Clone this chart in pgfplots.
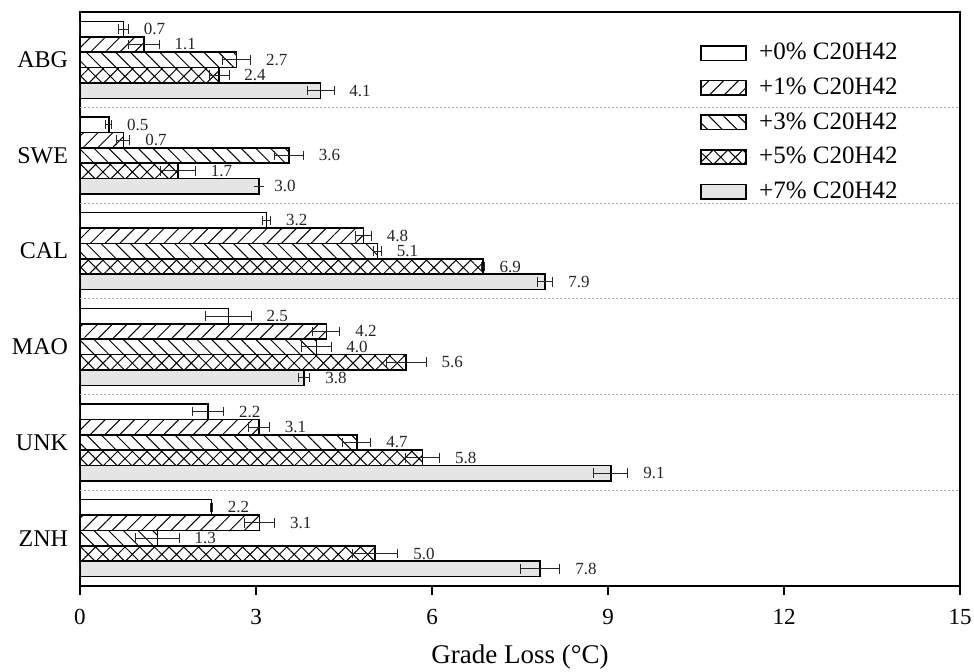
\documentclass[border=0pt]{standalone}
\usepackage{fontspec}
\setmainfont{Liberation Serif}
\usepackage{pgfplots}
\pgfplotsset{compat=1.18}
\usepackage{pgfplotstable}
\usetikzlibrary{patterns.meta}

% y = group position + offset (ZNH=0 ... ABG=5)
\pgfplotstableread{
y x err label
5.322 0.74 0.085 0.7
4.322 0.49 0.05 0.5
3.322 3.18 0.07 3.2
2.322 2.53 0.39 2.5
1.322 2.18 0.27 2.2
0.322 2.24 0.02 2.2
}\tA
\pgfplotstableread{
y x err label
5.161 1.09 0.26 1.1
4.161 0.74 0.11 0.7
3.161 4.83 0.14 4.8
2.161 4.20 0.23 4.2
1.161 3.05 0.18 3.1
0.161 3.06 0.26 3.1
}\tB
\pgfplotstableread{
y x err label
5 2.67 0.24 2.7
4 3.56 0.25 3.6
3 5.07 0.07 5.1
2 4.03 0.25 4.0
1 4.72 0.24 4.7
0 1.32 0.37 1.3
}\tC
\pgfplotstableread{
y x err label
4.839 2.37 0.17 2.4
3.839 1.67 0.30 1.7
2.839 6.87 0.02 6.9
1.839 5.56 0.34 5.6
0.839 5.84 0.29 5.8
-0.161 5.03 0.39 5.0
}\tD
\pgfplotstableread{
y x err label
4.678 4.10 0.23 4.1
3.678 3.05 0.00 3.0
2.678 7.93 0.13 7.9
1.678 3.82 0.10 3.8
0.678 9.05 0.29 9.1
-0.322 7.84 0.34 7.8
}\tE

\pgfplotsset{
  mybar/.style={xbar, bar width=0.161, bar shift=0pt, draw=black, line width=0.8pt,
    legend image code/.code={\draw[##1,line width=0.8pt] (0pt,-3.6pt) rectangle (22.5pt,3.6pt);
      \path[draw=none] (22.5pt,0pt) -- (27pt,0pt);},
    error bars/x dir=both, error bars/x explicit,
    error bars/error mark=|,
    error bars/error bar style={line width=0.5pt, black!85},
    error bars/error mark options={line width=0.5pt, mark size=2.4pt, black!85}},
  mylab/.style={draw=none, mark=none, forget plot, nodes near coords, point meta=explicit symbolic,
    nodes near coords style={anchor=west, inner sep=0pt, xshift=7.5pt, font=\fontsize{8.5}{9}\selectfont, black!85}},
}

\begin{document}
\begin{tikzpicture}
\begin{axis}[
  name=ax,
  scale only axis, width=440pt, height=287pt,
  xmin=0, xmax=15, ymin=-0.5, ymax=5.5,
  xtick={0,3,6,9,12,15},
  ytick={0,1,2,3,4,5}, yticklabels={ZNH,UNK,MAO,CAL,SWE,ABG},
  axis line style={line width=1pt},
  tick align=outside, xtick pos=bottom, ytick pos=left,
  major tick length=4.5pt,
  x tick style={line width=0.8pt, black},
  y tick style={draw=none},
  extra y ticks={0.5,1.5,2.5,3.5,4.5}, extra y tick labels={},
  extra y tick style={grid=major, major grid style={black!35, line width=0.5pt, dash pattern=on 1pt off 1pt}, tick style={draw=none}},
  /pgf/number format/assume math mode=true,
  xticklabel style={font=\fontsize{11.5}{13}\selectfont, yshift=-3.5pt},
  yticklabel style={font=\fontsize{12}{14}\selectfont, xshift=2pt},
  xlabel={Grade Loss (°C)},
  x label style={at={(axis description cs:0.5,0)}, anchor=center, yshift=-35.5pt, font=\fontsize{13.5}{15}\selectfont},
  legend style={at={(rel axis cs:0.7045,0.953)}, anchor=north west, draw=none, fill=none, inner sep=0pt,
    font=\fontsize{12.5}{14}\selectfont, row sep=3.5pt},
  legend cell align=left,
]
\addplot[mybar, fill=white] table[x=x, y=y, x error=err] {\tA};
\addlegendentry{+0\% C20H42}
\addplot[mybar, pattern={Lines[angle=45, distance=5.2pt, line width=0.5pt]}] table[x=x, y=y, x error=err] {\tB};
\addlegendentry{+1\% C20H42}
\addplot[mybar, pattern={Lines[angle=-45, distance=5.2pt, line width=0.5pt]}] table[x=x, y=y, x error=err] {\tC};
\addlegendentry{+3\% C20H42}
\addplot[mybar, pattern={Hatch[angle=45, distance=5.2pt, line width=0.5pt]}] table[x=x, y=y, x error=err] {\tD};
\addlegendentry{+5\% C20H42}
\addplot[mybar, fill=black!10] table[x=x, y=y, x error=err] {\tE};
\addlegendentry{+7\% C20H42}

\addplot[mylab] table[x expr=\thisrow{x}+\thisrow{err}, y=y, meta=label] {\tA};
\addplot[mylab] table[x expr=\thisrow{x}+\thisrow{err}, y=y, meta=label] {\tB};
\addplot[mylab] table[x expr=\thisrow{x}+\thisrow{err}, y=y, meta=label] {\tC};
\addplot[mylab] table[x expr=\thisrow{x}+\thisrow{err}, y=y, meta=label] {\tD};
\addplot[mylab] table[x expr=\thisrow{x}+\thisrow{err}, y=y, meta=label] {\tE};
\end{axis}
\pgfresetboundingbox
\path[use as bounding box] ([xshift=-40pt,yshift=-43pt]ax.south west) rectangle ([xshift=7pt,yshift=6pt]ax.north east);
\end{tikzpicture}
\end{document}
